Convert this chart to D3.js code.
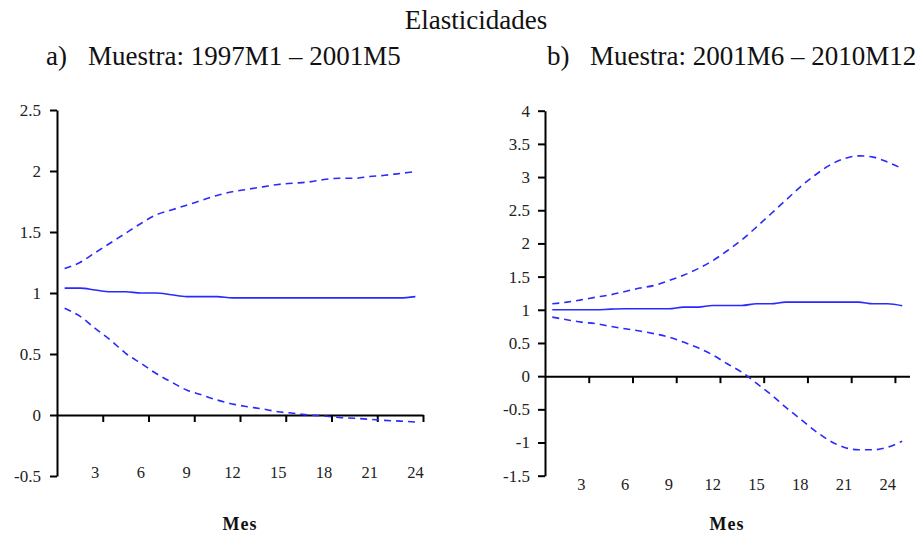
<!DOCTYPE html>
<html>
<head>
<meta charset="utf-8">
<script src="https://cdn.jsdelivr.net/npm/d3@7"></script>
<style>
  html, body { margin: 0; padding: 0; background: #fff; }
  svg { display: block; }
  svg text { font-family: "Liberation Serif", "Times New Roman", serif; }
</style>
</head>
<body>
<svg id="chart" width="919" height="535"></svg>
<script>
// Elasticity impulse responses (point estimate and bands), by month
const monthsA = d3.range(1, 25);
const centralA = [1.04, 1.04, 1.025, 1.01, 1.01, 1.0, 1.0, 0.985, 0.97, 0.97, 0.97, 0.96,
                  0.96, 0.96, 0.96, 0.96, 0.96, 0.96, 0.96, 0.96, 0.96, 0.96, 0.96, 0.97];
const upperA   = [1.20, 1.25, 1.33, 1.41, 1.49, 1.57, 1.64, 1.68, 1.72, 1.76, 1.80, 1.83,
                  1.85, 1.87, 1.89, 1.90, 1.91, 1.93, 1.94, 1.94, 1.955, 1.965, 1.98, 1.995];
const lowerA   = [0.875, 0.81, 0.71, 0.615, 0.506, 0.424, 0.34, 0.27, 0.205, 0.164, 0.123, 0.09,
                  0.068, 0.049, 0.027, 0.014, 0.0, -0.008, -0.02, -0.027, -0.035, -0.044, -0.05, -0.057];

const monthsB = d3.range(1, 26);
const centralB = [1.0, 1.0, 1.0, 1.0, 1.01, 1.015, 1.015, 1.015, 1.015, 1.04, 1.04, 1.065, 1.065,
                  1.065, 1.09, 1.09, 1.115, 1.115, 1.115, 1.115, 1.115, 1.115, 1.09, 1.09, 1.06];
const upperB   = [1.09, 1.115, 1.15, 1.19, 1.226, 1.276, 1.327, 1.367, 1.44, 1.52, 1.62, 1.74, 1.89,
                  2.055, 2.246, 2.447, 2.648, 2.85, 3.025, 3.176, 3.276, 3.32, 3.30, 3.226, 3.126];
const lowerB   = [0.89, 0.85, 0.814, 0.79, 0.75, 0.714, 0.68, 0.64, 0.588, 0.513, 0.427, 0.32, 0.186,
                  0.06, -0.106, -0.276, -0.467, -0.643, -0.82, -0.97, -1.07, -1.11, -1.11, -1.07, -0.98];

const xTickMonths = [3, 6, 9, 12, 15, 18, 21, 24];
const yTicksA = [-0.5, 0, 0.5, 1, 1.5, 2, 2.5];
const yTicksB = [-1.5, -1, -0.5, 0, 0.5, 1, 1.5, 2, 2.5, 3, 3.5, 4];

const mainTitle = "Elasticidades";
const panelLabels = ["a)", "b)"];
const panelTitles = ["Muestra: 1997M1 – 2001M5", "Muestra: 2001M6 – 2010M12"];
const xAxisTitle = "Mes";

const FONT = "Liberation Serif, Times New Roman, serif";
const svg = d3.select("#chart");
const BLUE = "#2a2aff";

svg.append("text")
  .attr("x", 476).attr("y", 29)
  .attr("text-anchor", "middle")
  .attr("font-family", FONT)
  .attr("font-size", 27)
  .attr("fill", "#111")
  .text(mainTitle);

function panel(cfg) {
  const g = svg.append("g");
  const x = d3.scaleLinear().domain([0, cfg.months.length]).range(cfg.xRange);
  const y = d3.scaleLinear().domain(cfg.yDomain).range(cfg.yRange);

  // panel heading
  g.append("text").attr("x", cfg.labelX).attr("y", 65)
    .attr("font-family", FONT)
    .attr("font-size", 27).attr("fill", "#111").text(cfg.label);
  g.append("text").attr("x", cfg.titleX).attr("y", 65)
    .attr("font-family", FONT)
    .attr("font-size", 27).attr("fill", "#111").text(cfg.title);

  // y axis
  const yAxis = d3.axisLeft(y)
    .tickValues(cfg.yTicks)
    .tickFormat(d => String(d))
    .tickSize(7).tickSizeOuter(0)
    .tickPadding(cfg.yPad);
  const ya = g.append("g").attr("transform", `translate(${cfg.xRange[0]},0)`).call(yAxis);
  ya.select(".domain").attr("stroke", "#000").attr("stroke-width", 2);
  ya.selectAll(".tick line").attr("stroke", "#000").attr("stroke-width", 2);
  ya.selectAll(".tick text")
    .attr("font-family", FONT)
    .attr("font-size", 17).attr("fill", "#222");

  // x axis through zero, ticks at category boundaries
  const xAxis = d3.axisBottom(x)
    .tickValues(xTickMonths)
    .tickFormat("")
    .tickSize(7).tickSizeOuter(0);
  const xa = g.append("g").attr("transform", `translate(0,${y(0)})`).call(xAxis);
  xa.select(".domain").attr("stroke", "#000").attr("stroke-width", 2);
  xa.selectAll(".tick line").attr("stroke", "#000").attr("stroke-width", 2);

  // month labels centred on their category
  g.selectAll("text.mlabel").data(xTickMonths).join("text")
    .attr("class", "mlabel")
    .attr("x", d => x(d - 0.5))
    .attr("y", cfg.xLabelY)
    .attr("text-anchor", "middle")
    .attr("font-family", FONT)
    .attr("font-size", 16.5).attr("fill", "#222")
    .text(d => d);

  g.append("text")
    .attr("x", cfg.xTitleX).attr("y", 530)
    .attr("text-anchor", "middle")
    .attr("font-family", FONT)
    .attr("font-size", 18).attr("font-weight", "bold")
    .attr("letter-spacing", 1)
    .attr("fill", "#111")
    .text(xAxisTitle);

  const line = d3.line()
    .x((d, i) => x(cfg.months[i] - 0.5))
    .y(d => y(d))
    .curve(d3.curveMonotoneX);

  [
    { data: cfg.upper, dash: "7,5" },
    { data: cfg.lower, dash: "7,5" },
    { data: cfg.central, dash: null }
  ].forEach(s => {
    g.append("path")
      .datum(s.data)
      .attr("d", line)
      .attr("fill", "none")
      .attr("stroke", BLUE)
      .attr("stroke-width", 1.6)
      .attr("stroke-dasharray", s.dash);
  });
}

panel({
  months: monthsA, central: centralA, upper: upperA, lower: lowerA,
  xRange: [57, 423], yDomain: [-0.5, 2.5], yRange: [476, 110],
  yTicks: yTicksA, yPad: 9, xLabelY: 478, xTitleX: 240,
  label: panelLabels[0], title: panelTitles[0], labelX: 46, titleX: 88
});

panel({
  months: monthsB, central: centralB, upper: upperB, lower: lowerB,
  xRange: [545, 909.5], yDomain: [-1.5, 4], yRange: [475.7, 110.7],
  yTicks: yTicksB, yPad: 8, xLabelY: 490, xTitleX: 727,
  label: panelLabels[1], title: panelTitles[1], labelX: 547, titleX: 590
});
</script>
</body>
</html>
